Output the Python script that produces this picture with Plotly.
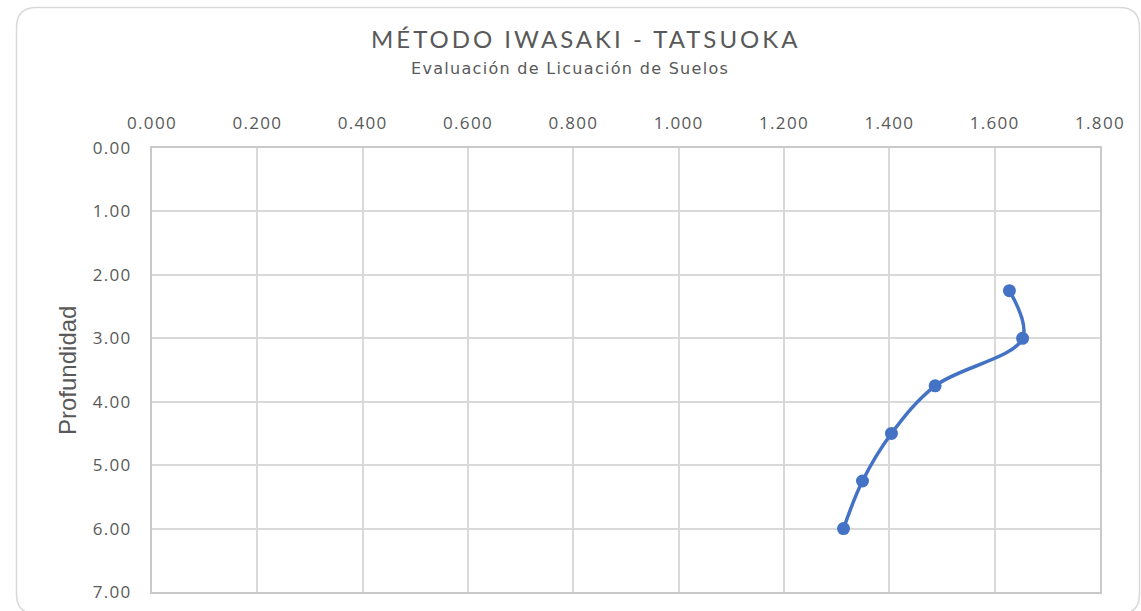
import plotly.graph_objects as go

# Licuación de suelos: factor vs profundidad
factor = [1.628, 1.653, 1.487, 1.404, 1.349, 1.313]
profundidad = [2.25, 3.00, 3.75, 4.50, 5.25, 6.00]

x_ticks = [0.0, 0.2, 0.4, 0.6, 0.8, 1.0, 1.2, 1.4, 1.6, 1.8]
y_ticks = [0, 1, 2, 3, 4, 5, 6, 7]

titulo = "MÉTODO IWASAKI - TATSUOKA"
subtitulo = "Evaluación de Licuación de Suelos"
eje_y = "Profundidad"

W, H = 1141, 611
L, R, T, B = 152, 1100, 148, 592  # plot area in pixels

GRAY = "#595959"
BLUE = "#4472C4"


def spaced(text, px):
    return f'<span style="letter-spacing:{px}px">{text}</span>'


def px_to_paper(px, py):
    return (px - L) / (R - L), (B - py) / (B - T)


def rounded_rect(x0, y0, x1, y1, r):
    def p(x, y):
        a, b = px_to_paper(x, y)
        return f"{a:.5f},{b:.5f}"
    pts = [
        "M " + p(x0 + r, y0),
        "L " + p(x1 - r, y0),
        "Q " + p(x1, y0) + " " + p(x1, y0 + r),
        "L " + p(x1, y1 - r),
        "Q " + p(x1, y1) + " " + p(x1 - r, y1),
        "L " + p(x0 + r, y1),
        "Q " + p(x0, y1) + " " + p(x0, y1 - r),
        "L " + p(x0, y0 + r),
        "Q " + p(x0, y0) + " " + p(x0 + r, y0),
    ]
    return " ".join(pts) + " Z"


fig = go.Figure()
fig.add_trace(go.Scatter(
    x=factor, y=profundidad,
    mode="lines+markers",
    line=dict(color=BLUE, width=3.5, shape="spline", smoothing=1.0),
    marker=dict(color=BLUE, size=13),
    showlegend=False,
    hoverinfo="x+y",
))

tick_font = dict(family="Open Sans", size=17, color=GRAY)

fig.update_xaxes(
    side="top",
    range=[0, 1.8],
    tickvals=x_ticks,
    ticktext=[spaced(f"{v:.3f}", 1.3) for v in x_ticks],
    showgrid=True, gridcolor="#D9D9D9", gridwidth=2,
    showline=True, linecolor="#C9C9C9", linewidth=2, mirror=True,
    zeroline=False,
    tickfont=tick_font,
    ticklabelstandoff=10,
    automargin=False,
    fixedrange=True,
)
fig.update_yaxes(
    range=[7, 0],
    tickvals=y_ticks,
    ticktext=[spaced(f"{v:.2f}", 1.3) for v in y_ticks],
    showgrid=True, gridcolor="#D9D9D9", gridwidth=2,
    showline=True, linecolor="#C9C9C9", linewidth=2, mirror=True,
    zeroline=False,
    tickfont=tick_font,
    ticklabelstandoff=15,
    automargin=False,
    fixedrange=True,
)

tx, ty = px_to_paper(585, 39)
sx, sy = px_to_paper(570, 69)
yx, yy = px_to_paper(67, 371)

fig.update_layout(
    width=W, height=H,
    margin=dict(l=L, r=W - R, t=T, b=H - B, pad=0, autoexpand=False),
    paper_bgcolor="white", plot_bgcolor="white",
    shapes=[dict(type="path", xref="paper", yref="paper",
                 path=rounded_rect(16.5, 7.5, 1139.5, 614, 20),
                 line=dict(color="#D9D9D9", width=1.5), layer="below")],
    annotations=[
        dict(text=spaced(titulo, 3), x=tx, y=ty, xref="paper", yref="paper",
             showarrow=False, xanchor="center", yanchor="middle",
             font=dict(family="Lato", size=24, color=GRAY)),
        dict(text=spaced(subtitulo, 1.3), x=sx, y=sy, xref="paper", yref="paper",
             showarrow=False, xanchor="center", yanchor="middle",
             font=dict(family="DejaVu Sans", size=16, color=GRAY)),
        dict(text=eje_y, x=yx, y=yy, xref="paper", yref="paper",
             showarrow=False, xanchor="center", yanchor="middle", textangle=-90,
             font=dict(family="Liberation Sans", size=24, color=GRAY)),
    ],
)

fig.write_html("out.html")
